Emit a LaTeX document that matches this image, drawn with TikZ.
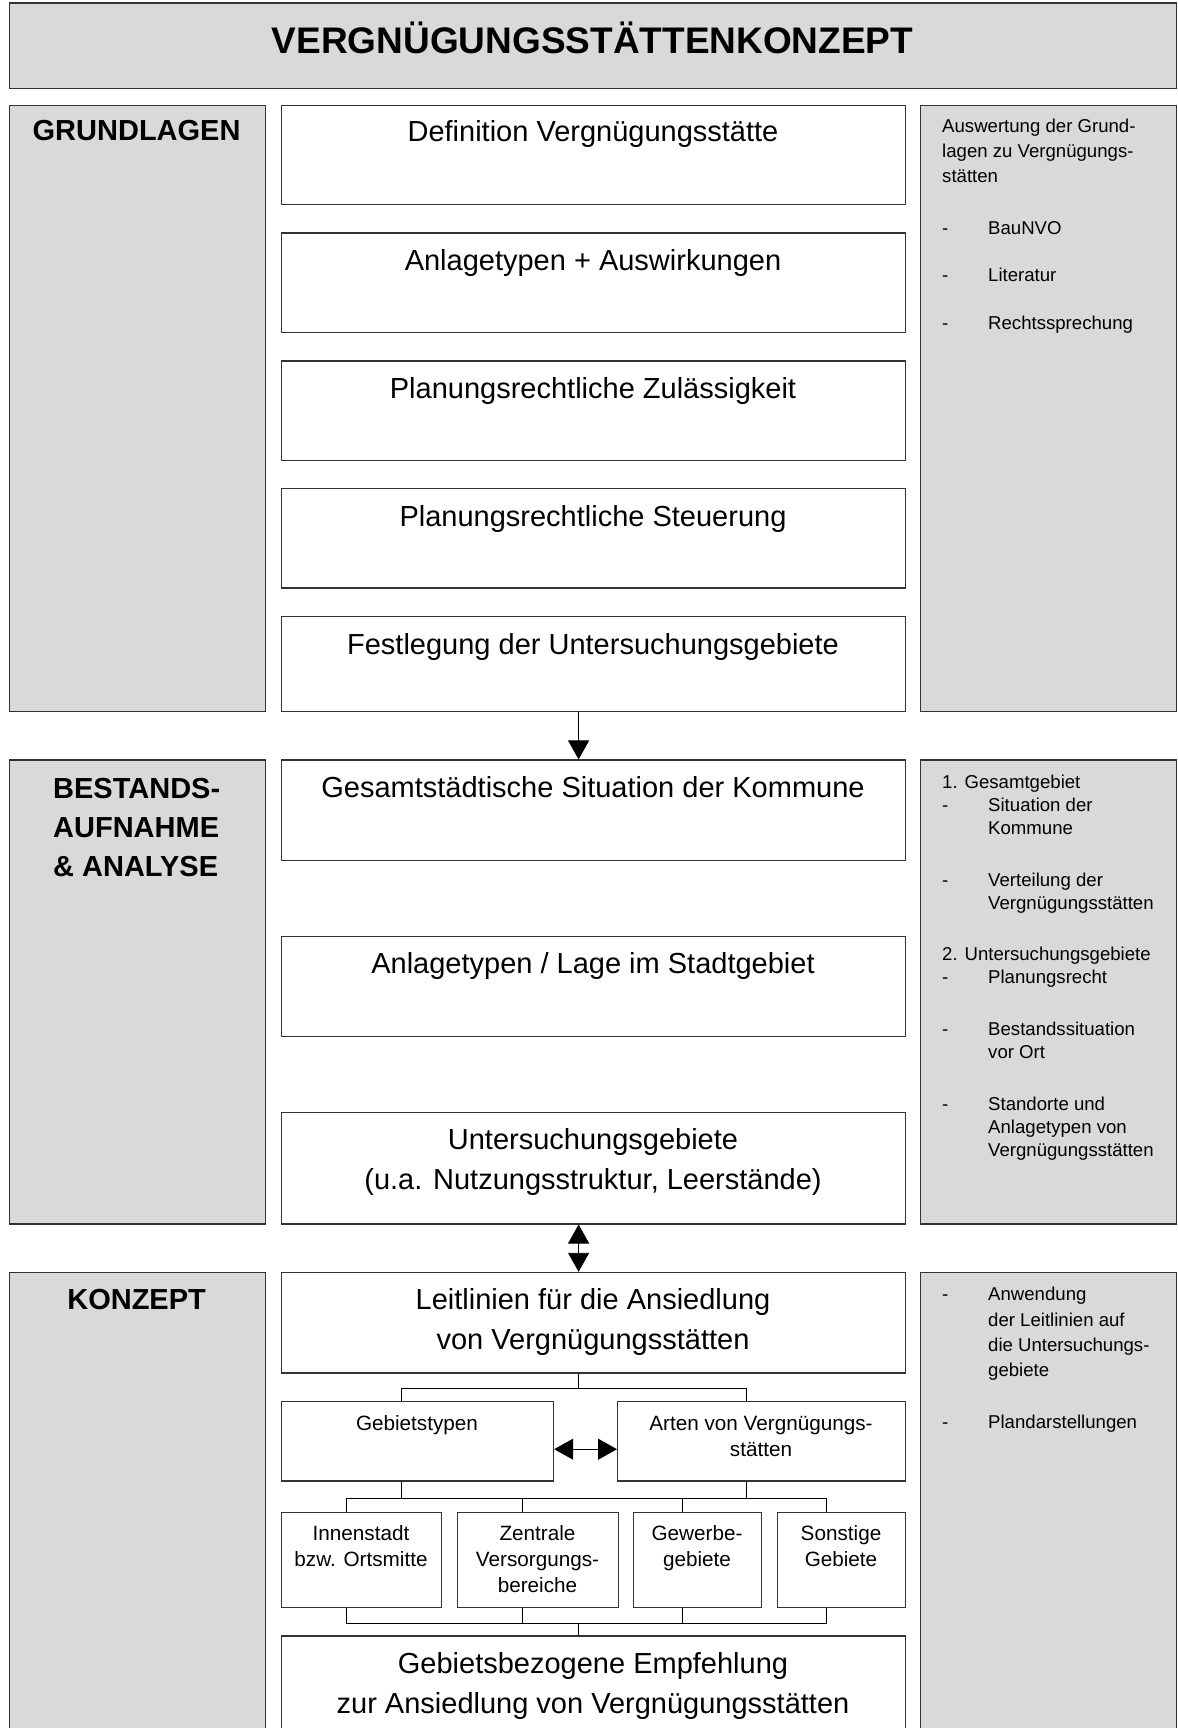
\documentclass[tikz,border=0pt]{standalone}
\usepackage{fontspec}
\setmainfont{Liberation Sans}
\usetikzlibrary{calc}
\usetikzlibrary{arrows.meta}
\usepackage{xcolor}

\tikzset{
  feld/.style={draw=black!80, line width=1.2pt, inner sep=0pt, anchor=north west},
  grau/.style={feld, fill=black!15},
  weiss/.style={feld, fill=white},
  titel/.style={font=\fontsize{37}{44}\selectfont\bfseries, anchor=base},
  stufe/.style={font=\fontsize{29}{39}\selectfont\bfseries, align=left},
  gross/.style={font=\fontsize{29}{40}\selectfont, align=center},
  klein/.style={font=\fontsize{20.7}{26}\selectfont, align=center},
  liste/.style={font=\fontsize{18.6}{25.3}\selectfont, align=left, anchor=north west, inner sep=0pt},
  linie/.style={line width=0.9pt, black},
  pfeil/.style={linie, -{Triangle[length=19pt,width=21pt]}},
  doppelpfeil/.style={linie, {Triangle[length=19pt,width=21pt]}-{Triangle[length=19pt,width=21pt]}},
}

\begin{document}
\begin{tikzpicture}[x=1pt,y=-1pt]
\newcommand{\feld}[6]{
  \node[#2, minimum width={(#5-#3)*1pt}, minimum height={(#6-#4)*1pt}] (#1) at (#3,#4) {};
}
\newcommand{\strich}{\makebox[46pt][l]{-}}
\newcommand{\einzug}{\hspace*{46pt}}

\useasboundingbox (0,0) rectangle (1177,1728);
\clip (0,0) rectangle (1177,1728);

% Kopf
\feld{kopf}{grau}{9}{2.5}{1176}{88}
\node[titel] (kopf-t) at (592.5,54) {VERGNÜGUNGSSTÄTTENKONZEPT};

% linke und rechte Spalte
\feld{grundlagen}{grau}{9}{104.7}{264.5}{710.9}
\feld{bestand}{grau}{9}{759.4}{264.5}{1223.3}
\feld{konzept}{grau}{9}{1271.8}{264.5}{1740}
\feld{info-a}{grau}{920}{104.7}{1175.5}{710.9}
\feld{info-b}{grau}{920}{759.4}{1175.5}{1223.3}
\feld{info-c}{grau}{920}{1271.8}{1175.5}{1740}

\node[stufe, anchor=base] (grundlagen-t) at (136.6,140.4) {GRUNDLAGEN};
\node[stufe, anchor=north west, inner sep=0pt] (bestand-t) at (53,778.5) {BESTANDS-\\AUFNAHME\\\& ANALYSE};
\node[stufe, anchor=base] (konzept-t) at (136.6,1309.5) {KONZEPT};

% Grundlagen
\feld{definition}{weiss}{281}{104.7}{905}{203.9}
\feld{anlagen}{weiss}{281}{232.5}{905}{331.7}
\feld{zulaessig}{weiss}{281}{360.4}{905}{459.6}
\feld{steuerung}{weiss}{281}{488.2}{905}{587.4}
\feld{festlegung}{weiss}{281}{616}{905}{710.9}
\node[gross, anchor=base] (definition-t) at (593,141.5) {Definition Vergnügungsstätte};
\node[gross, anchor=base] (anlagen-t) at (593,270.5) {Anlagetypen + Auswirkungen};
\node[gross, anchor=base] (zulaessig-t) at (593,398.5) {Planungsrechtliche Zulässigkeit};
\node[gross, anchor=base] (steuerung-t) at (593,526.5) {Planungsrechtliche Steuerung};
\node[gross, anchor=base] (festlegung-t) at (593,654) {Festlegung der Untersuchungsgebiete};

% Bestandsaufnahme
\feld{gesamt}{weiss}{281}{759.4}{905}{859.6}
\feld{lage}{weiss}{281}{935.7}{905}{1036}
\feld{untersuchung}{weiss}{281}{1112}{905}{1223.3}
\node[gross, anchor=base] (gesamt-t) at (593,797.5) {Gesamtstädtische Situation der Kommune};
\node[gross, anchor=base] (lage-t) at (593,973.5) {Anlagetypen / Lage im Stadtgebiet};
\node[gross] (untersuchung-t) at (593,1161.5) {Untersuchungsgebiete\\(u.a. Nutzungsstruktur, Leerstände)};

% Konzept
\feld{leitlinien}{weiss}{281}{1271.8}{905}{1372.4}
\feld{gebietstypen}{weiss}{281}{1400.8}{553}{1480.4}
\feld{arten}{weiss}{617}{1400.8}{905}{1480.4}
\feld{innenstadt}{weiss}{281}{1512}{441}{1607}
\feld{zentral}{weiss}{457}{1512}{618}{1607}
\feld{gewerbe}{weiss}{633}{1512}{761}{1607}
\feld{sonstige}{weiss}{777}{1512}{905}{1607}
\feld{empfehlung}{weiss}{281}{1635.3}{905}{1740}
\node[gross] (leitlinien-t) at (593,1322) {Leitlinien für die Ansiedlung\\von Vergnügungsstätten};
\node[klein, anchor=base] (gebietstypen-t) at (417,1430.3) {Gebietstypen};
\node[klein] (arten-t) at (761,1436.5) {Arten von Vergnügungs-\\stätten};
\node[klein] (innenstadt-t) at (361,1546.5) {Innenstadt\\bzw. Ortsmitte};
\node[klein] (zentral-t) at (537.5,1559.5) {Zentrale\\Versorgungs-\\bereiche};
\node[klein] (gewerbe-t) at (697,1548) {Gewerbe-\\gebiete};
\node[klein] (sonstige-t) at (841,1546.5) {Sonstige\\Gebiete};
\node[gross] (empfehlung-t) at (593,1686) {Gebietsbezogene Empfehlung\\zur Ansiedlung von Vergnügungsstätten};

% Verbindungen
\draw[pfeil] ($(festlegung.south)+(-15,0)$) -- ($(gesamt.north)+(-15,0)$);
\draw[doppelpfeil] ($(untersuchung.south)+(-15,0)$) -- ($(leitlinien.north)+(-15,0)$);

\coordinate (gabel-a) at ($(leitlinien.south)+(-15,15.3)$);
\draw[linie] ($(leitlinien.south)+(-15,0)$) -- (gabel-a);
\draw[linie] ($(gebietstypen.north)+(-16,0)$) |- (gabel-a) -| ($(arten.north)+(-15,0)$);
\draw[doppelpfeil] ($(gebietstypen.east)+(0,8)$) -- ($(arten.west)+(0,8)$);

\coordinate (gabel-b) at ($(gebietstypen.south)+(-16,16.5)$);
\draw[linie] ($(gebietstypen.south)+(-16,0)$) -- (gabel-b);
\draw[linie] ($(arten.south)+(-15,0)$) |- (gabel-b);
\coordinate (gabel-c) at ($(empfehlung.north)+(-15,-12)$);
\draw[linie] (gabel-c) -- ($(empfehlung.north)+(-15,0)$);
\foreach \k in {innenstadt,zentral,gewerbe,sonstige}{
  \draw[linie] ($(\k.north)+(-15.5,0)$) |- (gabel-b);
  \draw[linie] ($(\k.south)+(-15.5,0)$) |- (gabel-c);
}

% Erlaeuterungen rechts
\node[liste] (info-a-t) at (942,118.5) {Auswertung der Grund-\\lagen zu Vergnügungs-\\stätten\\[26.4pt]
  \strich BauNVO\\[22.2pt]\strich Literatur\\[22.2pt]\strich Rechtssprechung};
\node[liste, font=\fontsize{18.6}{23}\selectfont] (info-b-t) at (942,774.5) {1. Gesamtgebiet\\
  \strich Situation der\\\einzug Kommune\\[29pt]
  \strich Verteilung der\\\einzug Vergnügungsstätten\\[28pt]
  2. Untersuchungsgebiete\\\strich Planungsrecht\\[29pt]
  \strich Bestandssituation\\\einzug vor Ort\\[29pt]
  \strich Standorte und\\\einzug Anlagetypen von\\\einzug Vergnügungsstätten};
\node[liste, font=\fontsize{18.6}{25.4}\selectfont] (info-c-t) at (942,1287) {\strich Anwendung\\
  \einzug der Leitlinien auf\\\einzug die Untersuchungs-\\\einzug gebiete\\[26pt]
  \strich Plandarstellungen};

\end{tikzpicture}
\end{document}
